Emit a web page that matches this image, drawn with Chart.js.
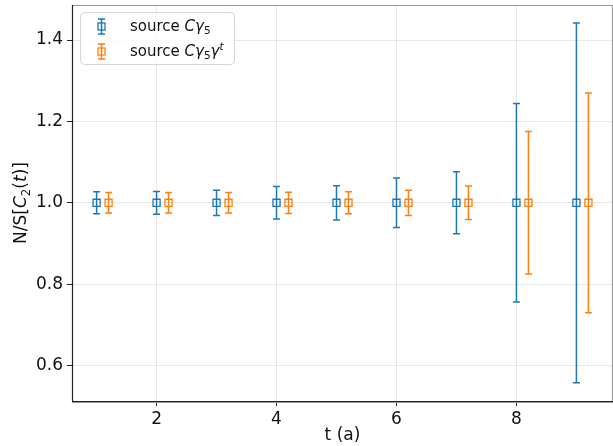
<!DOCTYPE html>
<html>
<head>
<meta charset="utf-8">
<script src="https://cdn.jsdelivr.net/npm/chart.js@4.4.0/dist/chart.umd.min.js"></script>
<style>
  html, body { margin: 0; padding: 0; background: #fff; }
  #wrap { width: 613px; height: 446px; position: relative; }
</style>
</head>
<body>
<div id="wrap"><canvas id="chart"></canvas></div>
<script>
// --- DATA ---
const tBlue = [1, 2, 3, 4, 5, 6, 7, 8, 9];
const tOrange = [1.2, 2.2, 3.2, 4.2, 5.2, 6.2, 7.2, 8.2, 9.2];
const blueValues = [1.0, 1.0, 1.0, 1.0, 1.0, 1.0, 1.0, 1.0, 1.0];
const blueErrors = [0.027, 0.028, 0.031, 0.040, 0.042, 0.061, 0.076, 0.244, 0.442];
const orangeValues = [1.0, 1.0, 1.0, 1.0, 1.0, 1.0, 1.0, 1.0, 1.0];
const orangeErrors = [0.025, 0.025, 0.025, 0.026, 0.027, 0.031, 0.041, 0.175, 0.270];
const xTicks = [2, 4, 6, 8];
const yTicks = [0.6, 0.8, 1.0, 1.2, 1.4];

const BLUE = '#1f77b4';
const ORANGE = '#ff7f0e';
const FONT = "'DejaVu Sans', sans-serif";

// draw a run of text pieces (normal / italic / sub / sup) starting at x
function drawRich(ctx, pieces, x, y, size) {
    let cx = x;
    pieces.forEach(p => {
        const s = (p.sub || p.sup) ? size * 0.7 : size;
        ctx.font = `${p.italic ? 'italic ' : ''}${s}px ${FONT}`;
        let dy = 0;
        if (p.sub) dy = size * 0.28;
        if (p.sup) dy = -size * 0.38;
        ctx.fillText(p.text, cx, y + dy);
        cx += ctx.measureText(p.text).width;
    });
    return cx - x;
}
function richWidth(ctx, pieces, size) {
    let w = 0;
    pieces.forEach(p => {
        const s = (p.sub || p.sup) ? size * 0.7 : size;
        ctx.font = `${p.italic ? 'italic ' : ''}${s}px ${FONT}`;
        w += ctx.measureText(p.text).width;
    });
    return w;
}

function drawMarker(ctx, x, y, color, half, errPx) {
    ctx.strokeStyle = color;
    ctx.lineWidth = 1.5;
    ctx.beginPath();
    ctx.moveTo(x, y - errPx); ctx.lineTo(x, y + errPx);
    ctx.moveTo(x - 3.5, y - errPx); ctx.lineTo(x + 3.5, y - errPx);
    ctx.moveTo(x - 3.5, y + errPx); ctx.lineTo(x + 3.5, y + errPx);
    ctx.stroke();
    ctx.lineWidth = 1.3;
    ctx.strokeRect(x - half, y - half, half * 2, half * 2);
}

// error bars, drawn under the markers
const errorBars = {
    id: 'errorBars',
    beforeDatasetsDraw(chart) {
        const ctx = chart.ctx;
        const xs = chart.scales.x, ys = chart.scales.y;
        ctx.save();
        chart.data.datasets.forEach(ds => {
            ctx.strokeStyle = ds.borderColor;
            ctx.lineWidth = 1.5;
            ds.data.forEach((pt, i) => {
                const px = xs.getPixelForValue(pt.x);
                const top = ys.getPixelForValue(pt.y + ds.errors[i]);
                const bot = ys.getPixelForValue(pt.y - ds.errors[i]);
                ctx.beginPath();
                ctx.moveTo(px, top); ctx.lineTo(px, bot);
                ctx.moveTo(px - 3.5, top); ctx.lineTo(px + 3.5, top);
                ctx.moveTo(px - 3.5, bot); ctx.lineTo(px + 3.5, bot);
                ctx.stroke();
            });
        });
        ctx.restore();
    }
};

// frame, y axis title and legend
const decorations = {
    id: 'decorations',
    afterDraw(chart) {
        const ctx = chart.ctx;
        const a = chart.chartArea;
        ctx.save();
        // spines
        ctx.lineWidth = 1.2;
        ctx.strokeStyle = '#999';
        ctx.beginPath();
        ctx.moveTo(a.left, a.top + 0.5); ctx.lineTo(a.right, a.top + 0.5);
        ctx.moveTo(a.right - 0.5, a.top); ctx.lineTo(a.right - 0.5, a.bottom);
        ctx.stroke();
        ctx.strokeStyle = '#222';
        ctx.beginPath();
        ctx.moveTo(a.left + 0.5, a.top); ctx.lineTo(a.left + 0.5, a.bottom);
        ctx.moveTo(a.left, a.bottom + 0.5); ctx.lineTo(a.right, a.bottom + 0.5);
        ctx.stroke();
        ctx.strokeStyle = '#999';
        ctx.beginPath();
        ctx.moveTo(a.left, a.bottom + 1.5); ctx.lineTo(a.right, a.bottom + 1.5);
        ctx.stroke();

        // y axis title
        const yTitle = [
            { text: 'N/S[' }, { text: 'C', italic: true }, { text: '2', sub: true },
            { text: '(' }, { text: 't', italic: true }, { text: ')]' }
        ];
        ctx.fillStyle = '#111';
        ctx.textBaseline = 'middle';
        const tw = richWidth(ctx, yTitle, 17);
        ctx.translate(22, (a.top + a.bottom) / 2);
        ctx.rotate(-Math.PI / 2);
        drawRich(ctx, yTitle, -tw / 2, 0, 17);
        ctx.setTransform(1, 0, 0, 1, 0, 0);

        // legend
        ctx.fillStyle = 'rgba(255,255,255,0.8)';
        ctx.strokeStyle = '#d5d5d5';
        ctx.lineWidth = 1;
        ctx.beginPath();
        ctx.roundRect(80.5, 12.5, 154, 52, 4);
        ctx.fill();
        ctx.stroke();
        const rows = [
            { color: BLUE, y: 26.5, pieces: [
                { text: 'source ' }, { text: 'Cγ', italic: true }, { text: '5', sub: true }
            ] },
            { color: ORANGE, y: 51.5, pieces: [
                { text: 'source ' }, { text: 'Cγ', italic: true }, { text: '5', sub: true },
                { text: 'γ', italic: true }, { text: 't', italic: true, sup: true }
            ] }
        ];
        rows.forEach(r => {
            drawMarker(ctx, 101.5, r.y, r.color, 3.5, 7.5);
            ctx.fillStyle = '#111';
            ctx.textBaseline = 'middle';
            drawRich(ctx, r.pieces, 130, r.y + 1, 15);
        });
        ctx.restore();
    }
};

function toPoints(xs, ys) {
    return xs.map((x, i) => ({ x: x, y: ys[i] }));
}

// drop the half-label padding Chart.js adds around the axes
function noPad(s) {
    s.paddingTop = 0; s.paddingBottom = 0;
    s.paddingLeft = 0; s.paddingRight = 0;
}

new Chart(document.getElementById('chart'), {
    type: 'scatter',
    data: {
        datasets: [
            {
                label: 'source Cγ5',
                data: toPoints(tBlue, blueValues),
                errors: blueErrors,
                borderColor: BLUE,
                backgroundColor: 'rgba(0,0,0,0)',
                pointStyle: 'rect',
                pointRadius: 5,
                borderWidth: 1.3
            },
            {
                label: 'source Cγ5γt',
                data: toPoints(tOrange, orangeValues),
                errors: orangeErrors,
                borderColor: ORANGE,
                backgroundColor: 'rgba(0,0,0,0)',
                pointStyle: 'rect',
                pointRadius: 5,
                borderWidth: 1.3
            }
        ]
    },
    options: {
        responsive: true,
        maintainAspectRatio: false,
        animation: false,
        devicePixelRatio: 1,
        layout: { autoPadding: false, padding: { top: 5, right: 0, left: 0, bottom: 0 } },
        plugins: {
            legend: { display: false },
            tooltip: { enabled: false }
        },
        scales: {
            x: {
                type: 'linear',
                min: 0.59,
                max: 9.61,
                afterBuildTicks: s => { s.ticks = xTicks.map(v => ({ value: v })); },
                afterFit: s => { s.height = 45; noPad(s); },
                border: { display: false },
                grid: { color: '#e8e8e8', tickColor: '#222', tickLength: 5, lineWidth: 1 },
                ticks: { color: '#111', font: { family: FONT, size: 17 }, padding: 3 },
                title: {
                    display: true, text: 't (a)', color: '#111',
                    font: { family: FONT, size: 17 }, padding: { top: 0, bottom: 0 }
                }
            },
            y: {
                type: 'linear',
                min: 0.513,
                max: 1.486,
                afterBuildTicks: s => { s.ticks = yTicks.map(v => ({ value: v })); },
                afterFit: s => { s.width = 72; noPad(s); },
                border: { display: false },
                grid: { color: '#e8e8e8', tickColor: '#222', tickLength: 5, lineWidth: 1 },
                ticks: {
                    color: '#111', font: { family: FONT, size: 17 }, padding: 4,
                    callback: v => v.toFixed(1)
                }
            }
        }
    },
    plugins: [errorBars, decorations]
});
</script>
</body>
</html>
